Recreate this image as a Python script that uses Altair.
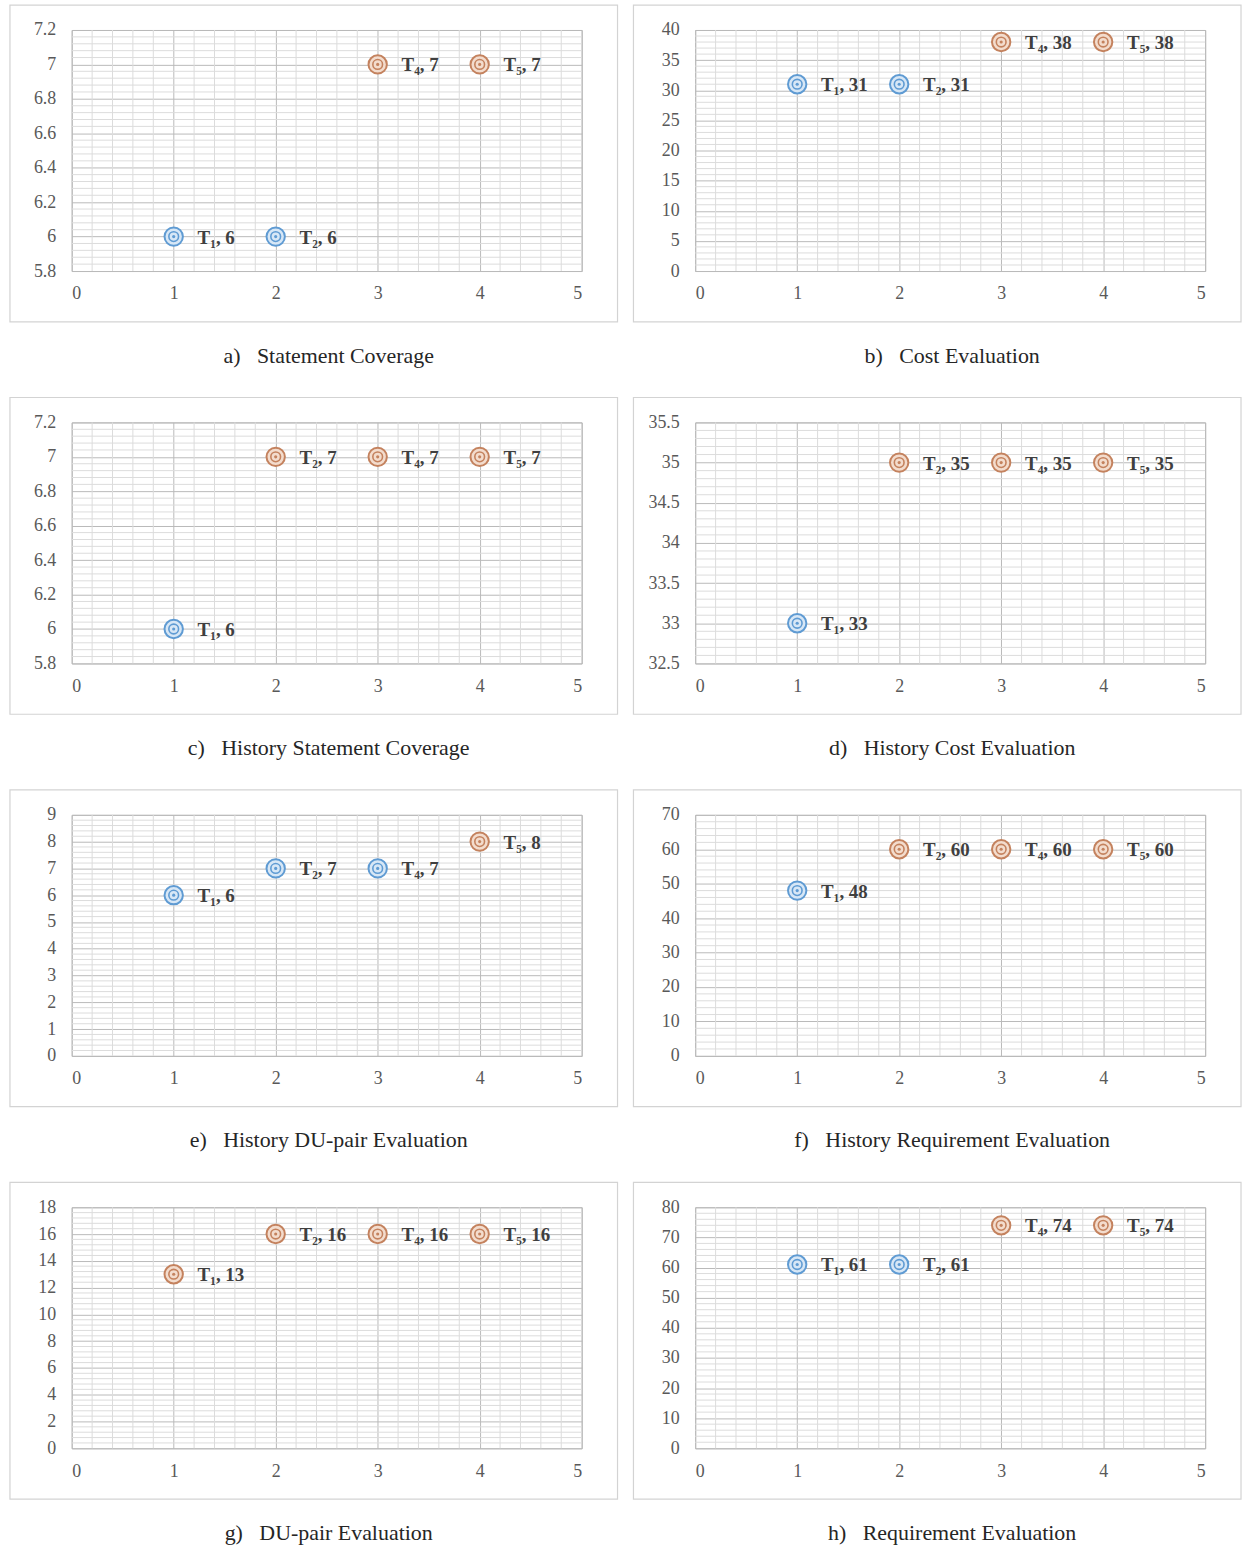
import altair as alt
import numpy as np
import pandas as pd

# x positions of the four test suites and their names
x_pos = [1, 2, 3, 4]
tests = ["T₁", "T₂", "T₄", "T₅"]

# a) Statement Coverage
stmt_cov = [6, 6, 7, 7]
stmt_cov_series = ["lo", "lo", "hi", "hi"]
stmt_cov_ticks = [5.8, 6.0, 6.2, 6.4, 6.6, 6.8, 7.0, 7.2]

# b) Cost Evaluation
cost_eval = [31, 31, 38, 38]
cost_eval_series = ["lo", "lo", "hi", "hi"]
cost_eval_ticks = [0, 5, 10, 15, 20, 25, 30, 35, 40]

# c) History Statement Coverage
hist_stmt = [6, 7, 7, 7]
hist_stmt_series = ["lo", "hi", "hi", "hi"]
hist_stmt_ticks = [5.8, 6.0, 6.2, 6.4, 6.6, 6.8, 7.0, 7.2]

# d) History Cost Evaluation
hist_cost = [33, 35, 35, 35]
hist_cost_series = ["lo", "hi", "hi", "hi"]
hist_cost_ticks = [32.5, 33.0, 33.5, 34.0, 34.5, 35.0, 35.5]

# e) History DU-pair Evaluation
hist_du = [6, 7, 7, 8]
hist_du_series = ["lo", "lo", "lo", "hi"]
hist_du_ticks = [0, 1, 2, 3, 4, 5, 6, 7, 8, 9]

# f) History Requirement Evaluation
hist_req = [48, 60, 60, 60]
hist_req_series = ["lo", "hi", "hi", "hi"]
hist_req_ticks = [0, 10, 20, 30, 40, 50, 60, 70]

# g) DU-pair Evaluation
du_eval = [13, 16, 16, 16]
du_eval_series = ["hi", "hi", "hi", "hi"]
du_eval_ticks = [0, 2, 4, 6, 8, 10, 12, 14, 16, 18]

# h) Requirement Evaluation
req_eval = [61, 61, 74, 74]
req_eval_series = ["lo", "lo", "hi", "hi"]
req_eval_ticks = [0, 10, 20, 30, 40, 50, 60, 70, 80]

x_ticks = [0, 1, 2, 3, 4, 5]

captions = [
    "a)\u00a0\u00a0\u00a0Statement Coverage",
    "b)\u00a0\u00a0\u00a0Cost Evaluation",
    "c)\u00a0\u00a0\u00a0History Statement Coverage",
    "d)\u00a0\u00a0\u00a0History Cost Evaluation",
    "e)\u00a0\u00a0\u00a0History DU-pair Evaluation",
    "f)\u00a0\u00a0\u00a0History Requirement Evaluation",
    "g)\u00a0\u00a0\u00a0DU-pair Evaluation",
    "h)\u00a0\u00a0\u00a0Requirement Evaluation",
]

W, H = 512, 242
SERIF = "Liberation Serif"
MAJOR = "#b9b9b9"
MINOR = "#dcdcdc"

ring_stroke = alt.Scale(domain=["lo", "hi"], range=["#5f9bd3", "#c4825e"])
ring_fill = alt.Scale(domain=["lo", "hi"], range=["#d7e7f6", "#f3dccd"])


def minor_steps(lo, hi, step):
    vals = np.round(np.arange(lo, hi + 1e-9, step / 5.0), 6)
    return [v for v in vals if abs(round((v - lo) / step) * step + lo - v) > 1e-6]


def panel(values, series, ticks, caption):
    lo, hi = ticks[0], ticks[-1]
    step = ticks[1] - ticks[0]

    x_enc = alt.X(
        "x:Q",
        scale=alt.Scale(domain=[0, 5], nice=False, zero=False),
        axis=alt.Axis(values=x_ticks, title=None, grid=True, gridColor=MAJOR,
                      domain=False, ticks=False, labelPadding=14, format="d",
                      labelFont=SERIF, labelFontSize=18, labelColor="#595959"),
    )
    y_enc = alt.Y(
        "y:Q",
        scale=alt.Scale(domain=[lo, hi], nice=False, zero=False),
        axis=alt.Axis(values=ticks, title=None, grid=True, gridColor=MAJOR,
                      domain=False, ticks=False, labelPadding=16, format="~f",
                      labelFont=SERIF, labelFontSize=18, labelColor="#595959"),
    )

    pts = pd.DataFrame({
        "x": x_pos,
        "y": values,
        "s": series,
        "label": [f"{t}, {v}" for t, v in zip(tests, values)],
    })
    one = pd.DataFrame({"k": [0]})

    frame = alt.Chart(one).mark_rect(fillOpacity=0, stroke="#d3d3d3", strokeWidth=1.2).encode(
        x=alt.value(-62), x2=alt.value(W + 36), y=alt.value(-25), y2=alt.value(H + 51)
    )
    vminor = alt.Chart(pd.DataFrame({"x": minor_steps(0, 5, 1)})).mark_rule(
        color=MINOR, strokeWidth=1
    ).encode(x=x_enc)
    hminor = alt.Chart(pd.DataFrame({"y": minor_steps(lo, hi, step)})).mark_rule(
        color=MINOR, strokeWidth=1
    ).encode(y=y_enc)

    base = alt.Chart(pts).encode(x=x_enc, y=y_enc)
    outer = base.mark_point(shape="circle", filled=True, opacity=1, size=340, strokeWidth=2).encode(
        stroke=alt.Stroke("s:N", scale=ring_stroke, legend=None),
        fill=alt.Fill("s:N", scale=ring_fill, legend=None),
    )
    inner = base.mark_point(shape="circle", filled=True, opacity=1, size=95, strokeWidth=1.6).encode(
        stroke=alt.Stroke("s:N", scale=ring_stroke, legend=None),
        fill=alt.Fill("s:N", scale=ring_fill, legend=None),
    )
    dot = base.mark_point(shape="circle", filled=True, opacity=1, size=10, strokeWidth=0).encode(
        fill=alt.Fill("s:N", scale=ring_stroke, legend=None),
    )
    labels = base.mark_text(
        align="left", baseline="middle", dx=24, dy=1, font=SERIF, fontSize=19,
        fontWeight="bold", color="#3f3f3f",
    ).encode(text="label:N")

    cap = alt.Chart(one).mark_text(
        align="center", baseline="middle", font=SERIF, fontSize=22, color="#262626",
    ).encode(x=alt.value(W / 2 + 2), y=alt.value(H + 85), text=alt.value(caption))

    return alt.layer(frame, vminor, hminor, outer, inner, dot, labels, cap).properties(
        width=W, height=H
    ).resolve_scale(fill="independent")


panels = [
    panel(stmt_cov, stmt_cov_series, stmt_cov_ticks, captions[0]),
    panel(cost_eval, cost_eval_series, cost_eval_ticks, captions[1]),
    panel(hist_stmt, hist_stmt_series, hist_stmt_ticks, captions[2]),
    panel(hist_cost, hist_cost_series, hist_cost_ticks, captions[3]),
    panel(hist_du, hist_du_series, hist_du_ticks, captions[4]),
    panel(hist_req, hist_req_series, hist_req_ticks, captions[5]),
    panel(du_eval, du_eval_series, du_eval_ticks, captions[6]),
    panel(req_eval, req_eval_series, req_eval_ticks, captions[7]),
]

rows = [
    alt.hconcat(panels[i], panels[i + 1], spacing=12).resolve_scale(
        x="independent", y="independent"
    )
    for i in range(0, 8, 2)
]

chart = alt.vconcat(*rows, spacing=28).resolve_scale(
    x="independent", y="independent"
).properties(
    padding={"left": 8, "top": 0, "right": 0, "bottom": 0},
    background="white",
).configure_view(
    stroke=MAJOR
)

chart.save("out.html", embed_options={"renderer": "svg", "actions": False})
